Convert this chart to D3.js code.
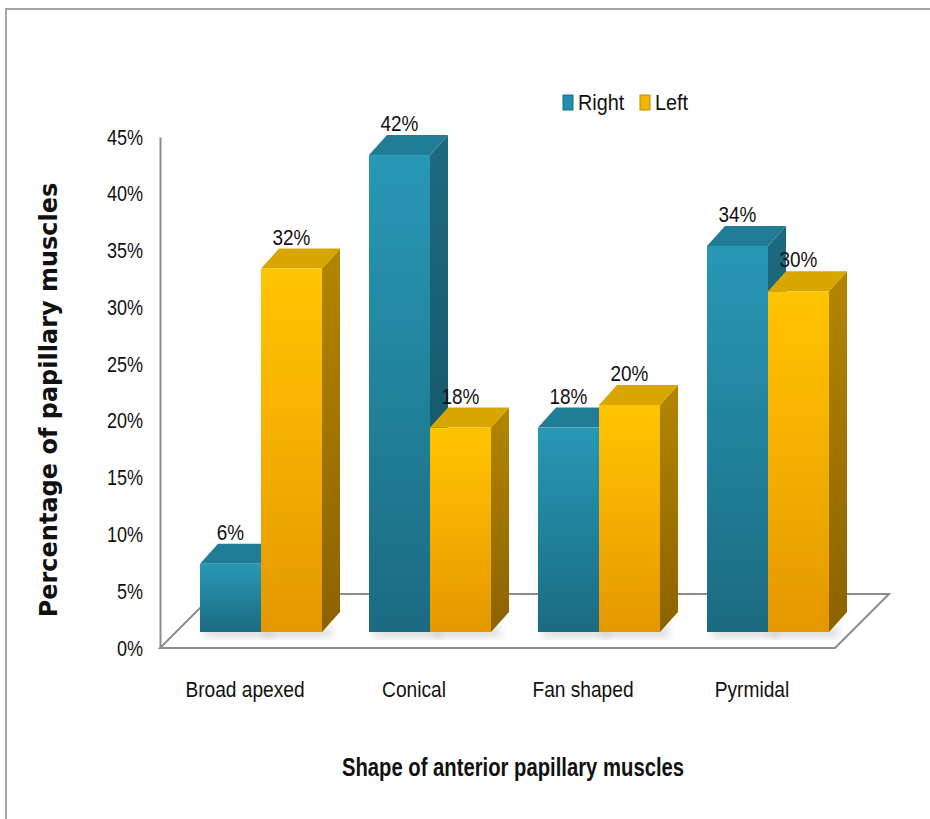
<!DOCTYPE html>
<html>
<head>
<meta charset="utf-8">
<script src="https://cdn.jsdelivr.net/npm/d3@7"></script>
<style>
  body { margin: 0; background: #fff; }
  text { font-family: "Liberation Sans Narrow", "Liberation Sans", sans-serif; fill: #111; }
</style>
</head>
<body>
<div id="chart"></div>
<script>
// data
const categories = ["Broad apexed", "Conical", "Fan shaped", "Pyrmidal"];
const series = ["Right", "Left"];
const rightValues = [6, 42, 18, 34];
const leftValues = [32, 18, 20, 30];
const yTicks = [0, 5, 10, 15, 20, 25, 30, 35, 40, 45];

const width = 930, height = 819;
const depth = 54;       // floor depth (45 deg)
const barOff = 16;      // bars sit this far back on the floor
const bdx = 18, bdy = 20; // bar depth

const svg = d3.select("#chart")
  .append("svg")
  .attr("width", width)
  .attr("height", height);

// narrow the glyphs a bit, the original font is a condensed one
function squeeze(sel, k) {
  sel.each(function () {
    const w = this.getComputedTextLength();
    d3.select(this).attr("textLength", w * k).attr("lengthAdjust", "spacingAndGlyphs");
  });
}

const defs = svg.append("defs");
function grad(id, stops, vertical) {
  const g = defs.append("linearGradient").attr("id", id)
    .attr("x1", 0).attr("y1", 0)
    .attr("x2", vertical ? 0 : 1).attr("y2", vertical ? 1 : 0);
  stops.forEach(function (s) {
    g.append("stop").attr("offset", s[0]).attr("stop-color", s[1]);
  });
}
grad("rFront", [[0, "#2898b6"], [0.5, "#21829c"], [1, "#1b6b82"]], true);
grad("rSide", [[0, "#1d6a80"], [1, "#164f60"]], true);
grad("lFront", [[0, "#ffc400"], [0.5, "#f4ae00"], [1, "#e39800"]], true);
grad("lSide", [[0, "#b38600"], [1, "#8c6200"]], true);
defs.append("filter").attr("id", "blur")
  .append("feGaussianBlur").attr("stdDeviation", 4);

const colors = {
  Right: { front: "url(#rFront)", side: "url(#rSide)", top: "#217d97", mark: "#2490ae" },
  Left: { front: "url(#lFront)", side: "url(#lSide)", top: "#d9a600", mark: "#f2b600" }
};

// outer frame (top and left edges only visible)
svg.append("path")
  .attr("d", "M6,819 L6,9 L930,9")
  .attr("fill", "none").attr("stroke", "#a6a6a6").attr("stroke-width", 2);

// scales
const x = d3.scaleBand()
  .domain(categories)
  .range([176.5, 852.5])
  .paddingInner(0.278)
  .paddingOuter(0.139);

const xs = d3.scaleBand()
  .domain(series)
  .range([0, x.bandwidth()]);

const y = d3.scaleLinear().domain([0, 45]).range([648, 137]);

// floor
const fx0 = 160, fx1 = 835, fy = y(0);
svg.append("path")
  .attr("d", `M${fx0},${fy} L${fx1},${fy} L${fx1 + depth},${fy - depth} L${fx0 + depth},${fy - depth} Z`)
  .attr("fill", "#fff").attr("stroke", "#8c8c8c").attr("stroke-width", 2);

// value axis
const yAxis = d3.axisLeft(y)
  .tickValues(yTicks)
  .tickSize(0)
  .tickPadding(17)
  .tickFormat(function (d) { return d + "%"; });
const ya = svg.append("g").attr("transform", `translate(${fx0},0)`).call(yAxis);
ya.select(".domain").attr("stroke", "#8c8c8c").attr("stroke-width", 2);
ya.selectAll("text")
  .style("font-size", "22px")
  .style("font-family", "'Liberation Sans Narrow', 'Liberation Sans', sans-serif")
  .attr("fill", "#111")
  .call(squeeze, 0.82);

// bars
const rows = [];
categories.forEach(function (c, i) {
  rows.push({ cat: c, s: "Right", v: rightValues[i] });
  rows.push({ cat: c, s: "Left", v: leftValues[i] });
});

// soft shadows on floor
svg.append("g").selectAll("rect")
  .data(rows)
  .join("rect")
  .attr("x", function (d) { return x(d.cat) + xs(d.s) + 4; })
  .attr("y", y(0) - barOff - 6)
  .attr("width", xs.bandwidth() + 6)
  .attr("height", 12)
  .attr("fill", "#000").attr("opacity", 0.12)
  .attr("filter", "url(#blur)");

const bars = svg.append("g").selectAll("g")
  .data(rows)
  .join("g");

bars.each(function (d) {
  const g = d3.select(this);
  const x0 = x(d.cat) + xs(d.s);
  const w = xs.bandwidth();
  const top = y(d.v) - barOff;
  const bot = y(0) - barOff;
  const col = colors[d.s];
  // side
  g.append("path")
    .attr("d", `M${x0 + w},${top} L${x0 + w + bdx},${top - bdy} L${x0 + w + bdx},${bot - bdy} L${x0 + w},${bot} Z`)
    .attr("fill", col.side);
  // top
  g.append("path")
    .attr("d", `M${x0},${top} L${x0 + bdx},${top - bdy} L${x0 + w + bdx},${top - bdy} L${x0 + w},${top} Z`)
    .attr("fill", col.top);
  // front
  g.append("rect")
    .attr("x", x0).attr("y", top)
    .attr("width", w).attr("height", bot - top)
    .attr("fill", col.front);
  // value label
  g.append("text")
    .attr("x", x0 + w / 2)
    .attr("y", top - bdy - 4)
    .attr("text-anchor", "middle")
    .style("font-size", "22px")
    .text(d.v + "%")
    .call(squeeze, 0.86);
});

// category labels
svg.append("g").selectAll("text")
  .data(categories)
  .join("text")
  .attr("x", function (d) { return x(d) + x.bandwidth() / 2 - 16; })
  .attr("y", 697)
  .attr("text-anchor", "middle")
  .style("font-size", "22px")
  .text(function (d) { return d; })
  .call(squeeze, 0.87);

// axis titles
svg.append("text")
  .attr("x", 513).attr("y", 776)
  .attr("text-anchor", "middle")
  .style("font-size", "25px")
  .style("font-weight", "bold")
  .text("Shape of anterior papillary muscles")
  .call(squeeze, 0.81);

svg.append("text")
  .attr("transform", "translate(57,400) rotate(-90)")
  .attr("text-anchor", "middle")
  .style("font-family", "'DejaVu Sans', sans-serif")
  .style("font-size", "24px")
  .style("font-weight", "bold")
  .text("Percentage of papillary muscles");

// legend
const legend = svg.append("g").selectAll("g")
  .data(series)
  .join("g")
  .attr("transform", function (d, i) { return `translate(${563 + i * 77},95)`; });
legend.append("rect")
  .attr("width", 10).attr("height", 15)
  .attr("fill", function (d) { return colors[d].mark; })
  .attr("stroke", function (d) { return d === "Right" ? "#1b6b82" : "#c08a00"; })
  .attr("stroke-width", 1);
legend.append("text")
  .attr("x", 15).attr("y", 15)
  .style("font-size", "22px")
  .text(function (d) { return d; })
  .call(squeeze, 0.9);
</script>
</body>
</html>
